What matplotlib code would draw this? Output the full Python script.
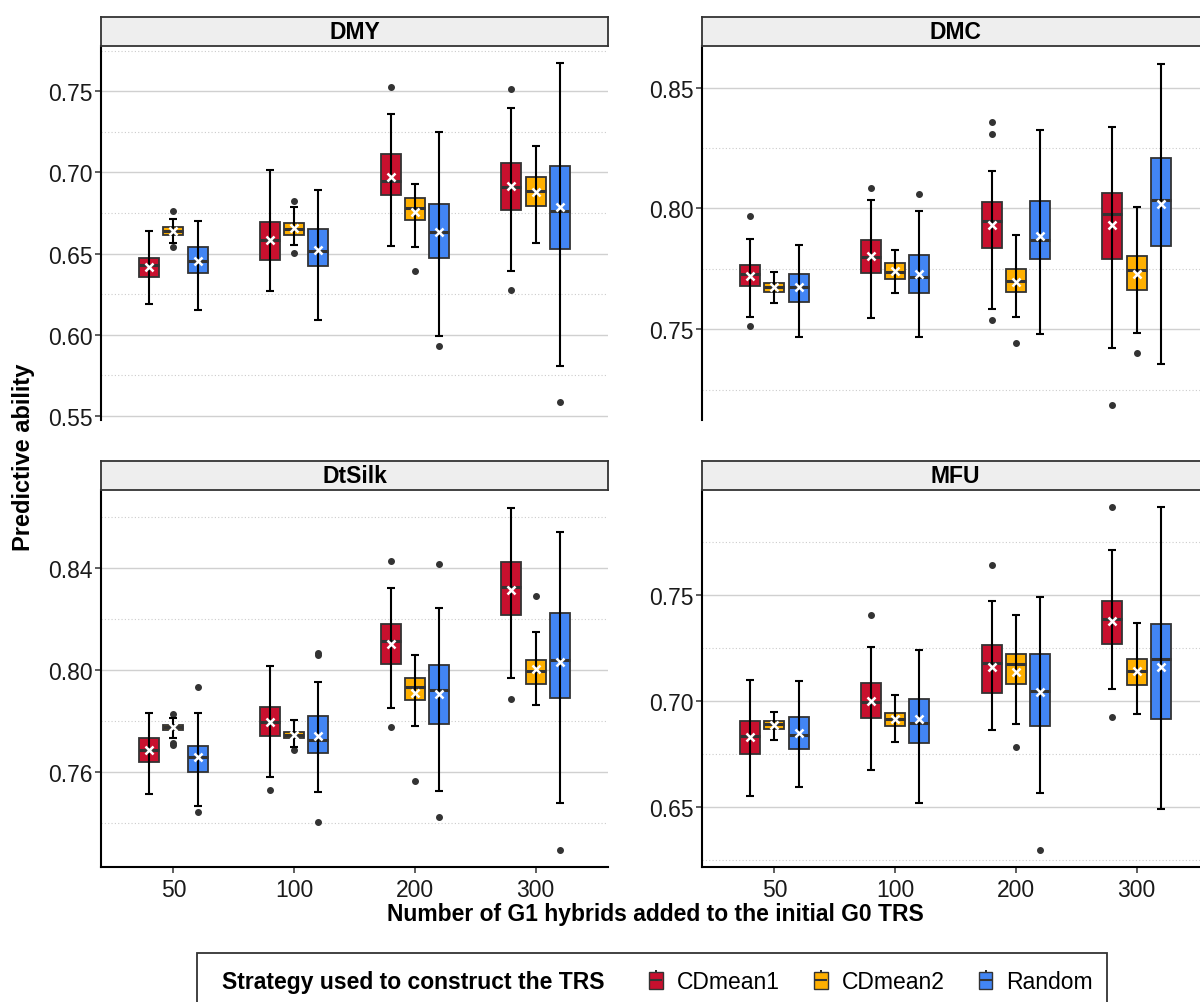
import numpy as np
import matplotlib
matplotlib.use('Agg')
import matplotlib.pyplot as plt
from matplotlib.patches import Patch, Rectangle
from matplotlib.lines import Line2D
from matplotlib.legend_handler import HandlerTuple
from matplotlib.ticker import MultipleLocator, FormatStrFormatter

plt.rcParams['font.family'] = ['Liberation Sans', 'DejaVu Sans']

# groups on the x axis and the three strategies
groups = ['50', '100', '200', '300']
strategies = ['CDmean1', 'CDmean2', 'Random']
colors = ['#C8102E', '#FFB000', '#4285F4']

# Each stat: one list of 4 values (50,100,200,300) per strategy (CDmean1, CDmean2, Random)

# DMY
dmy_med = [[0.6427, 0.6585, 0.6949, 0.6910], [0.6640, 0.6654, 0.6782, 0.6884], [0.6453, 0.6518, 0.6630, 0.6760]]
dmy_q1 = [[0.6354, 0.6461, 0.6860, 0.6766], [0.6616, 0.6613, 0.6709, 0.6790], [0.6380, 0.6423, 0.6471, 0.6530]]
dmy_q3 = [[0.6471, 0.6697, 0.7112, 0.7059], [0.6662, 0.6685, 0.6839, 0.6973], [0.6538, 0.6652, 0.6802, 0.7038]]
dmy_lo = [[0.6189, 0.6268, 0.6545, 0.6390], [0.6565, 0.6551, 0.6543, 0.6567], [0.6152, 0.6093, 0.5992, 0.5805]]
dmy_hi = [[0.6638, 0.7014, 0.7360, 0.7398], [0.6713, 0.6784, 0.6929, 0.7162], [0.6701, 0.6892, 0.7248, 0.7671]]
dmy_mean = [[0.6418, 0.6581, 0.6973, 0.6915], [0.6640, 0.6656, 0.6754, 0.6876], [0.6455, 0.6520, 0.6630, 0.6787]]
dmy_out = [[[], [], [0.7526], [0.7512, 0.6278]],
           [[0.6762, 0.6538], [0.6823, 0.6502], [0.6392], []],
           [[], [], [0.5929], [0.5585]]]

# DMC
dmc_med = [[0.7729, 0.7799, 0.7948, 0.7976], [0.7674, 0.7736, 0.7702, 0.7744], [0.7675, 0.7716, 0.7868, 0.8037]]
dmc_q1 = [[0.7678, 0.7731, 0.7836, 0.7790], [0.7655, 0.7708, 0.7653, 0.7664], [0.7614, 0.7651, 0.7790, 0.7845]]
dmc_q3 = [[0.7766, 0.7868, 0.8025, 0.8064], [0.7690, 0.7773, 0.7749, 0.7802], [0.7730, 0.7808, 0.8031, 0.8208]]
dmc_lo = [[0.7552, 0.7548, 0.7585, 0.7421], [0.7609, 0.7649, 0.7552, 0.7486], [0.7469, 0.7469, 0.7479, 0.7358]]
dmc_hi = [[0.7873, 0.8036, 0.8154, 0.8339], [0.7736, 0.7829, 0.7890, 0.8008], [0.7848, 0.7988, 0.8325, 0.8599]]
dmc_mean = [[0.7720, 0.7803, 0.7930, 0.7931], [0.7674, 0.7740, 0.7697, 0.7730], [0.7677, 0.7730, 0.7887, 0.8019]]
dmc_out = [[[0.7967, 0.7515], [0.8083], [0.8357, 0.8310, 0.7537], [0.7186]],
           [[], [], [0.7445], [0.7401]],
           [[], [0.8058], [], []]]

# DtSilk
dts_med = [[0.7689, 0.7797, 0.8115, 0.8325], [0.7776, 0.7746, 0.7933, 0.7997], [0.7659, 0.7725, 0.7922, 0.8040]]
dts_q1 = [[0.7640, 0.7742, 0.8026, 0.8218], [0.7766, 0.7733, 0.7885, 0.7945], [0.7600, 0.7677, 0.7791, 0.7890]]
dts_q3 = [[0.7736, 0.7855, 0.8180, 0.8425], [0.7787, 0.7758, 0.7969, 0.8039], [0.7703, 0.7821, 0.8020, 0.8225]]
dts_lo = [[0.7516, 0.7580, 0.7851, 0.7971], [0.7735, 0.7699, 0.7782, 0.7864], [0.7469, 0.7522, 0.7525, 0.7481]]
dts_hi = [[0.7834, 0.8015, 0.8323, 0.8635], [0.7813, 0.7804, 0.8060, 0.8148], [0.7834, 0.7954, 0.8242, 0.8542]]
dts_mean = [[0.7688, 0.7798, 0.8101, 0.8315], [0.7776, 0.7746, 0.7910, 0.8003], [0.7658, 0.7744, 0.7907, 0.8034]]
dts_out = [[[], [0.7529], [0.8429, 0.7778], [0.7889]],
           [[0.7829, 0.7716, 0.7706], [0.7688], [0.7566], [0.8291]],
           [[0.7933, 0.7443], [0.8069, 0.8059, 0.7407], [0.8416, 0.7425], [0.7295]]]

# MFU
mfu_med = [[0.6834, 0.6995, 0.7176, 0.7384], [0.6891, 0.6916, 0.7174, 0.7140], [0.6839, 0.6894, 0.7046, 0.7195]]
mfu_q1 = [[0.6750, 0.6917, 0.7038, 0.7266], [0.6867, 0.6880, 0.7077, 0.7074], [0.6774, 0.6801, 0.6883, 0.6915]]
mfu_q3 = [[0.6902, 0.7084, 0.7264, 0.7473], [0.6902, 0.6943, 0.7223, 0.7197], [0.6925, 0.7010, 0.7220, 0.7362]]
mfu_lo = [[0.6551, 0.6674, 0.6860, 0.7054], [0.6815, 0.6805, 0.6889, 0.6936], [0.6595, 0.6517, 0.6566, 0.6487]]
mfu_hi = [[0.7100, 0.7253, 0.7473, 0.7713], [0.6946, 0.7028, 0.7403, 0.7368], [0.7095, 0.7240, 0.7490, 0.7913]]
mfu_mean = [[0.6829, 0.6998, 0.7161, 0.7378], [0.6884, 0.6913, 0.7138, 0.7140], [0.6846, 0.6913, 0.7039, 0.7161]]
mfu_out = [[[], [0.7405], [0.7641], [0.7917, 0.6922]],
           [[], [], [0.6783], []],
           [[], [], [0.6296], []]]

panels = [
    ('DMY', dmy_med, dmy_q1, dmy_q3, dmy_lo, dmy_hi, dmy_mean, dmy_out, (0.5475, 0.7778), 0.05),
    ('DMC', dmc_med, dmc_q1, dmc_q3, dmc_lo, dmc_hi, dmc_mean, dmc_out, (0.7125, 0.8672), 0.05),
    ('DtSilk', dts_med, dts_q1, dts_q3, dts_lo, dts_hi, dts_mean, dts_out, (0.7229, 0.8706), 0.04),
    ('MFU', mfu_med, mfu_q1, mfu_q3, mfu_lo, mfu_hi, mfu_mean, mfu_out, (0.6215, 0.7995), 0.05),
]

W, H = 1200, 1003
fig = plt.figure(figsize=(W / 100, H / 100), dpi=100)

# panel boxes in pixels: (left, top, right, bottom)
boxes = [(101, 47, 608, 421), (702, 47, 1209, 421),
         (101, 491, 608, 868), (702, 491, 1209, 868)]
strip_h = 29
offsets = [-0.2, 0.0, 0.2]
box_w = 0.165
dark = '#333333'

for i, (name, med, q1, q3, lo, hi, mean, out, ylim, step) in enumerate(panels):
    l, t, r, b = boxes[i]
    ax = fig.add_axes([l / W, 1 - b / H, (r - l) / W, (b - t) / H])
    ax.set_xlim(0.4, 4.6)
    ax.set_ylim(*ylim)

    for s in range(3):
        pos = np.arange(1, 5) + offsets[s]
        stats = []
        for g in range(4):
            stats.append(dict(med=med[s][g], q1=q1[s][g], q3=q3[s][g],
                              whislo=lo[s][g], whishi=hi[s][g],
                              mean=mean[s][g], fliers=out[s][g]))
        ax.bxp(stats, positions=pos, widths=box_w, patch_artist=True,
               showcaps=False, showmeans=True, manage_ticks=False,
               boxprops=dict(facecolor=colors[s], edgecolor=dark, linewidth=1.3),
               medianprops=dict(color=dark, linewidth=2.2),
               whiskerprops=dict(linewidth=0),
               flierprops=dict(marker='o', markerfacecolor=dark, markeredgecolor=dark,
                               markersize=4, linestyle='none'),
               meanprops=dict(marker='x', markeredgecolor='white', markersize=6,
                              markeredgewidth=1.8, zorder=6))
        m = np.array(med[s])
        ax.errorbar(pos, m, yerr=[m - np.array(lo[s]), np.array(hi[s]) - m],
                    fmt='none', ecolor='black', elinewidth=1.5, capsize=2.6,
                    capthick=1.5, zorder=4)

    # grid
    ax.yaxis.set_major_locator(MultipleLocator(step))
    ax.yaxis.set_minor_locator(MultipleLocator(step / 2))
    ax.yaxis.set_major_formatter(FormatStrFormatter('%.2f'))
    ax.grid(True, which='major', axis='y', color='#d0d0d0', linewidth=1.0, zorder=0)
    ax.grid(True, which='minor', axis='y', color='#cccccc', linewidth=0.8,
            linestyle=(0, (1, 2)), zorder=0)
    ax.set_axisbelow(True)
    ax.tick_params(axis='y', which='minor', length=0)
    ax.tick_params(axis='y', which='major', length=4, width=1.1, color=dark,
                   labelsize=16.5, pad=2, labelcolor='#1a1a1a')
    for side in ['top', 'right']:
        ax.spines[side].set_visible(False)
    ax.spines['left'].set_color('black')
    ax.spines['left'].set_linewidth(1.5)

    ax.set_xticks(np.arange(1, 5))
    if i >= 2:
        ax.set_xticklabels(groups)
        ax.spines['bottom'].set_color('black')
        ax.spines['bottom'].set_linewidth(1.5)
        ax.tick_params(axis='x', length=4, width=1.1, color=dark, labelsize=16.5,
                       pad=4, labelcolor='#1a1a1a')
    else:
        ax.spines['bottom'].set_visible(False)
        ax.tick_params(axis='x', length=0, labelbottom=False)

    # facet strip
    sax = fig.add_axes([l / W, 1 - t / H, (r - l) / W, strip_h / H])
    sax.set_facecolor('#eeeeee')
    sax.set_xticks([])
    sax.set_yticks([])
    for sp in sax.spines.values():
        sp.set_color(dark)
        sp.set_linewidth(1.3)
    sax.text(((608 - 101) / 2) / (r - l), 0.5, name, transform=sax.transAxes,
             ha='center', va='center', fontsize=16.5, fontweight='bold', color='black')

# axis titles
fig.text(24 / W, 1 - 457 / H, 'Predictive ability', rotation=90, ha='center',
         va='center', fontsize=17, fontweight='bold')
fig.text(655 / W, 1 - 915 / H, 'Number of G1 hybrids added to the initial G0 TRS',
         ha='center', va='center', fontsize=16.5, fontweight='bold')

# legend
fig.patches.append(Rectangle((197 / W, -0.02), (1107 - 197) / W, 0.02 + (1003 - 954) / H,
                             transform=fig.transFigure, fill=False,
                             edgecolor=dark, linewidth=1.3))
fig.text(222 / W, 1 - 983 / H, 'Strategy used to construct the TRS', ha='left',
         va='center', fontsize=16.5, fontweight='bold')
handles = []
for c in colors:
    handles.append((Line2D([], [], color='black', marker='|', markersize=15,
                           markeredgewidth=1.2, linestyle='none'),
                    Patch(facecolor=c, edgecolor=dark, linewidth=1.0),
                    Line2D([], [], color=dark, marker='_', markersize=9,
                           markeredgewidth=1.5, linestyle='none')))
fig.legend(handles, strategies, ncol=3, loc='center left',
           bbox_to_anchor=(649 / W, 1 - 983 / H), frameon=False, fontsize=16.5,
           handler_map={tuple: HandlerTuple(ndivide=1, pad=0)},
           handlelength=0.6, handleheight=0.8, handletextpad=0.6,
           columnspacing=1.5, borderpad=0, borderaxespad=0)

fig.savefig('out.png', dpi=100)
